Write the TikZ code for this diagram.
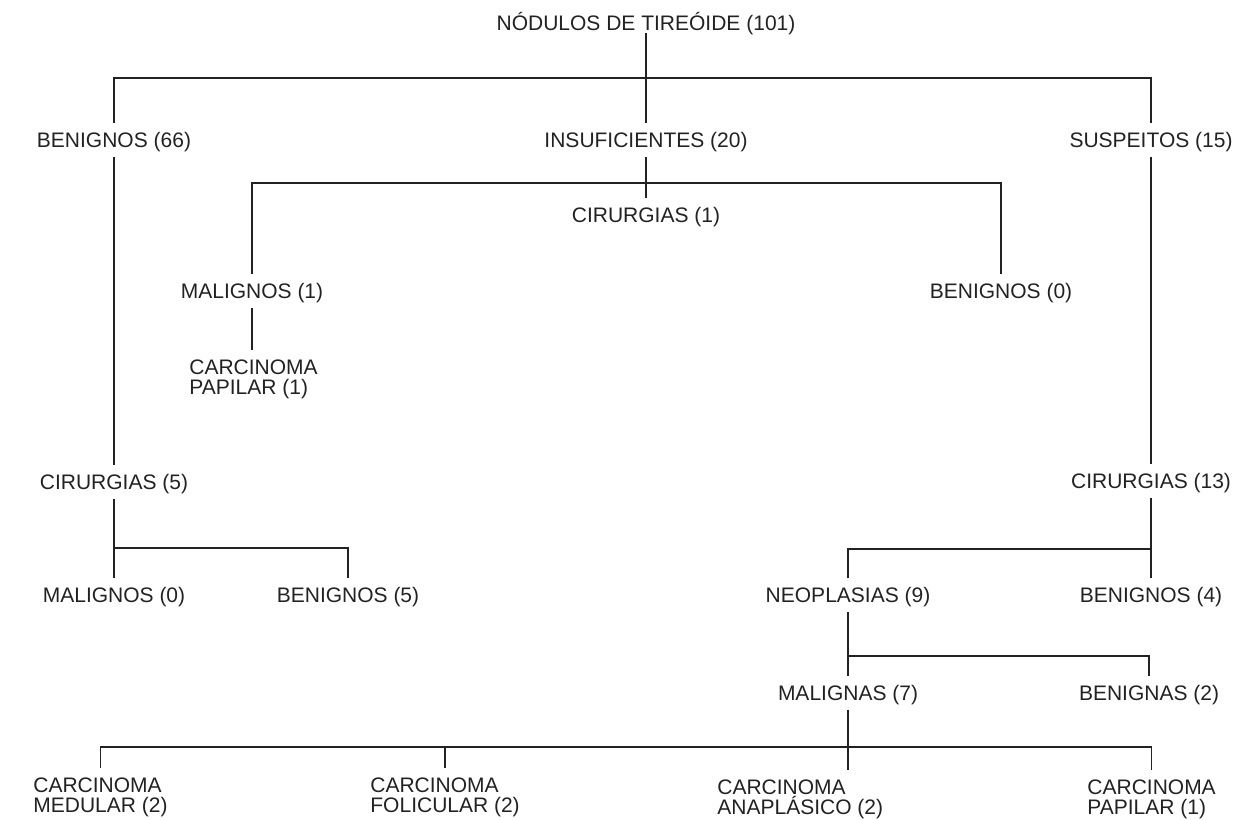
\documentclass[tikz,border=0pt]{standalone}
\usepackage{fontspec}
\setmainfont{Liberation Sans}
\usepackage{xcolor}
\definecolor{ink}{HTML}{222222}

\begin{document}
\begin{tikzpicture}[x=0.5pt, y=-0.5pt,
    box/.style={text=ink, font=\fontsize{10.5}{10.25}\selectfont, inner xsep=0pt, inner ysep=4.5pt, text height=7.5pt, text depth=0pt},
    box2/.style={text=ink, font=\fontsize{10.5}{10.25}\selectfont, inner xsep=0pt, inner ysep=4.5pt, align=left, anchor=north west},
    tree/.style={draw=ink, line width=0.85pt}]
      \useasboundingbox (0,0) rectangle (1256,819);

      \node[box, inner ysep=1.2pt] (root) at (646,23) {NÓDULOS DE TIREÓIDE (101)};

      \node[box] (ben66) at (114,140) {BENIGNOS (66)};
      \node[box] (insuf) at (646,140) {INSUFICIENTES (20)};
      \node[box] (susp) at (1151,140) {SUSPEITOS (15)};

      \node[box] (cir1) at (646,215) {CIRURGIAS (1)};
      \node[box] (mal1) at (252,291) {MALIGNOS (1)};
      \node[box] (ben0) at (1001,291) {BENIGNOS (0)};
      \node[box2] (cpap1) at (189,350) {CARCINOMA\\PAPILAR (1)};

      \node[box] (cir5) at (114,482) {CIRURGIAS (5)};
      \node[box] (mal0) at (114,595) {MALIGNOS (0)};
      \node[box] (ben5) at (348,595) {BENIGNOS (5)};

      \node[box] (cir13) at (1151,481) {CIRURGIAS (13)};
      \node[box] (neo) at (848,595) {NEOPLASIAS (9)};
      \node[box] (ben4) at (1151,595) {BENIGNOS (4)};
      \node[box] (malg) at (848,693) {MALIGNAS (7)};
      \node[box] (beng) at (1149,693) {BENIGNAS (2)};

      \node[box2] (cmed) at (33,768) {CARCINOMA\\MEDULAR (2)};
      \node[box2] (cfol) at (370,768) {CARCINOMA\\FOLICULAR (2)};
      \node[box2] (cana) at (717,770) {CARCINOMA\\ANAPLÁSICO (2)};
      \node[box2] (cpap2) at (1087,770) {CARCINOMA\\PAPILAR (1)};

      % heights of the horizontal bars
      \coordinate (barA) at (0,78);
      \coordinate (barB) at (0,183);
      \coordinate (barC) at (0,548);
      \coordinate (barD) at (0,549);
      \coordinate (barE) at (0,656);
      \coordinate (barF) at (0,747);

      \draw[tree] (root.south) -- (insuf.north);
      \draw[tree] (ben66.north) -- (ben66.north |- barA) -- (susp.north |- barA) -- (susp.north);

      \draw[tree] (insuf.south) -- (cir1.north);
      \draw[tree] (mal1.north) -- (mal1.north |- barB) -- (ben0.north |- barB) -- (ben0.north);
      \draw[tree] (mal1.south) -- (mal1.south |- cpap1.north);

      \draw[tree] (ben66.south) -- (cir5.north);
      \draw[tree] (cir5.south) -- (mal0.north);
      \draw[tree] (mal0.north |- barC) -- (ben5.north |- barC) -- (ben5.north);

      \draw[tree] (susp.south) -- (cir13.north);
      \draw[tree] (cir13.south) -- (ben4.north);
      \draw[tree] (neo.north) -- (neo.north |- barD) -- (ben4.north |- barD);

      \draw[tree] (neo.south) -- (malg.north);
      \draw[tree] (malg.north |- barE) -- (beng.north |- barE) -- (beng.north);

      \draw[tree] (malg.south) -- (malg.south |- cana.north);
      \draw[tree] (cmed.north) -- (cmed.north |- barF) -- (cpap2.north |- barF) -- (cpap2.north);
      \draw[tree] (cfol.north) -- (cfol.north |- barF);

    \end{tikzpicture}
\end{document}
